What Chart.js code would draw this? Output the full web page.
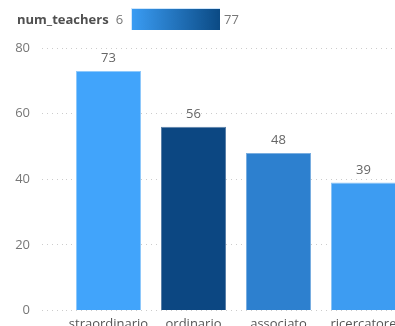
<!DOCTYPE html>
<html>
<head>
<meta charset="utf-8">
<script src="https://cdn.jsdelivr.net/npm/chart.js@4/dist/chart.umd.min.js"></script>
<style>
    html, body { margin: 0; padding: 0; width: 395px; height: 326px; overflow: hidden; background: #fff; }
    #wrap { position: relative; width: 410px; height: 340px; }
    #legend { position: absolute; left: 17px; top: 8px; height: 22px; display: flex; align-items: center; font-family: "Open Sans", sans-serif; font-size: 13px; color: #777; }
    #legend b { color: #505050; margin-right: 7px; }
    #ramp { width: 89px; height: 22px; margin: 0 4px 0 8px; box-sizing: border-box; border: 1px solid #cfe6fb; border-right: none; border-bottom: none; }
</style>
</head>
<body>
<div id="wrap">
    <canvas id="chart" width="410" height="340"></canvas>
    <div id="legend"><b>num_teachers</b><span id="legMin"></span><div id="ramp"></div><span id="legMax"></span></div>
</div>
<script>
const categories = ["straordinario", "ordinario", "associato", "ricercatore"];
const numTeachers = [73, 56, 48, 39];
const barColors = ["#41a4fb", "#0c4782", "#2d80cf", "#3d9cf2"];
const barBorders = ["#8fc9fb", "#5b80a8", "#7aaee0", "#8cc4f6"];
const yTicks = [0, 20, 40, 60, 80];
const rangeMin = 6;
const rangeMax = 77;
const rampColors = ["#3a9cf3", "#0b4a84"];

document.getElementById("legMin").textContent = rangeMin;
document.getElementById("legMax").textContent = rangeMax;
document.getElementById("ramp").style.background = "linear-gradient(to right, " + rampColors[0] + ", " + rampColors[1] + ")";

const valueLabels = {
    id: "valueLabels",
    afterDatasetsDraw(chart) {
        const ctx = chart.ctx;
        ctx.save();
        ctx.font = "13px 'Open Sans', sans-serif";
        ctx.fillStyle = "#666";
        ctx.textAlign = "center";
        ctx.textBaseline = "bottom";
        chart.getDatasetMeta(0).data.forEach((bar, i) => {
            ctx.fillText(numTeachers[i], bar.x, bar.y - 6);
        });
        ctx.restore();
    }
};

new Chart(document.getElementById("chart").getContext("2d"), {
    type: "bar",
    data: {
        labels: categories,
        datasets: [{
            data: numTeachers,
            backgroundColor: barColors,
            borderColor: barBorders,
            borderWidth: 1,
            borderSkipped: "bottom",
            categoryPercentage: 1,
            barPercentage: 0.765
        }]
    },
    options: {
        responsive: false,
        animation: false,
        layout: { padding: { top: 48, left: 0, right: 4, bottom: 0 } },
        plugins: { legend: { display: false }, tooltip: { enabled: false } },
        scales: {
            x: {
                grid: { display: false },
                border: { display: false },
                ticks: { color: "#555", padding: -2, autoSkip: false, maxRotation: 0, minRotation: 0, font: { family: "Open Sans", size: 13 } },
                afterFit(scale) { scale.height = 29.5; }
            },
            y: {
                min: 0,
                max: 80,
                afterBuildTicks(scale) { scale.ticks = yTicks.map(v => ({ value: v })); },
                border: { display: false, dash: [1, 4] },
                grid: {
                    color: "#cccccc",
                    tickColor: "#cccccc",
                    tickLength: 24,
                    tickBorderDash: [1, 4],
                    lineWidth: 1
                },
                ticks: { color: "#777", padding: 12, font: { family: "Open Sans", size: 13 } },
                afterFit(scale) { scale.width = 66; }
            }
        }
    },
    plugins: [valueLabels]
});
</script>
</body>
</html>
